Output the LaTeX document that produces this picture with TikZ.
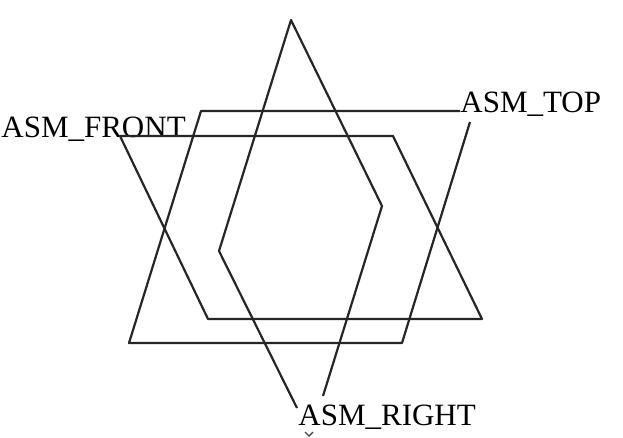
\documentclass[tikz,border=0pt]{standalone}
\usepackage{fontspec}
\setmainfont{Liberation Serif}

\begin{document}
\begin{tikzpicture}[x=1pt, y=-1pt, thick,
                    main line/.style={line width=2.2pt, black!85, line join=round},
                    main label/.style={anchor=base west, inner sep=0pt, font=\fontsize{31}{31}\selectfont}]

  \useasboundingbox (0,0) rectangle (623,437);

  \node[main label] (front) at (1,137) {ASM\_FRONT};
  \node[main label] (top) at (460,112) {ASM\_TOP};
  \node[main label] (right) at (298,425) {ASM\_RIGHT};

  % front
  \coordinate (f1) at (120,136);
  \coordinate (f2) at (393,136);
  \coordinate (f3) at (482,319);
  \coordinate (f4) at (208,319);
  \draw[main line] (f1) -- (f2) -- (f3) -- (f4) -- cycle;

  % top
  \coordinate (t1) at (460,111);
  \coordinate (t2) at (201,111);
  \coordinate (t3) at (129,343);
  \coordinate (t4) at (402,343);
  \coordinate (t5) at (470,122);
  \draw[main line] (t1) -- (t2) -- (t3) -- (t4) -- (t5);

  % right
  \coordinate (r1) at (297,408);
  \coordinate (r2) at (219,251);
  \coordinate (r3) at (291,20);
  \coordinate (r4) at (382,206);
  \coordinate (r5) at (323,396);
  \draw[main line] (r1) -- (r2) -- (r3) -- (r4) -- (r5);

  % tick below the label
  \coordinate (v1) at (305,432);
  \coordinate (v2) at (309,436);
  \coordinate (v3) at (313,432);
  \draw[line width=1.4pt, black!70] (v1) -- (v2) -- (v3);
\end{tikzpicture}
\end{document}
